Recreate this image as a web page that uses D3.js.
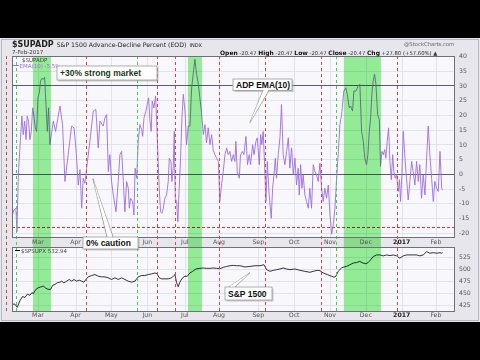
<!DOCTYPE html>
<html><head><meta charset="utf-8">
<script src="https://cdn.jsdelivr.net/npm/d3@7"></script>
<style>
html,body{margin:0;padding:0;background:#000;}
svg{display:block;font-family:"DejaVu Sans",Verdana,sans-serif;}
</style></head>
<body>
<svg id="c" width="480" height="360"></svg>
<script>
// ---- data ----
const monthLabels = ["Mar","Apr","May","Jun","Jul","Aug","Sep","Oct","Nov","Dec","2017","Feb"];
const monthDays   = [15,37,58,79,101,121,144,165,186,207,228,248]; // trading-day index (0 = 8-Feb-2016)
const adpTicks = [-20,-15,-10,-5,0,5,10,15,20,25,30,35,40];
const spxTicks = [425,450,475,500,525];
const adpLevels = [30,0];
const cautionLevel = -18;
const redEvents = [-3.9,43.1,84.7,95.2,121,147.9,180.7,225.2];
const greenEvents = [2.1,73,189.5];
const bandStart = [12.1,102.8,194.1];
const bandEnd   = [22.6,111,215.8];

const emaDay = [0,0.9,2.1,2.7,3.5,4.8,5.6,6.4,7.2,8.0,8.7,9.5,10.3,11.1,11.9,12.6,13.4,14.2,15.0,15.8,16.5,17.3,18.1,18.9,19.7,20.5,21.2,22.0,24.0,25.3,26.7,27.9,29.4,30.8,32.7,34.7,36.1,37.2,38.6,39.6,40.6,41.5,42.5,43.5,45.4,47.4,48.9,50.3,51.3,53.2,54.2,55.2,56.2,57.1,58.1,59.1,60.7,62.0,63.0,64.0,65.0,65.9,66.9,67.9,68.5,69.2,70.4,71.2,71.9,72.8,73.7,74.7,75.7,76.3,77.1,78.2,79.0,79.8,80.6,81.3,81.9,82.9,83.9,84.5,85.3,86.0,86.8,87.6,88.4,89.3,90.3,91.3,91.9,92.9,93.4,94.2,94.8,95.4,96.2,96.9,97.7,98.5,99.3,100.1,101.1,102.0,103.0,104.0,105.0,105.9,106.9,107.9,108.9,109.8,110.8,111.8,112.8,113.7,114.7,115.7,116.7,117.6,118.6,119.6,120.6,121.5,122.5,123.5,124.5,125.5,126.4,127.4,128.4,129.4,130.3,130.9,131.7,132.9,133.6,134.8,135.6,136.8,137.7,138.7,139.5,140.7,141.5,142.6,143.4,144.6,145.4,146.1,146.9,147.7,148.5,149.3,150.4,151.6,152.4,153.2,154.0,154.7,155.7,156.7,157.6,158.6,159.6,160.6,161.6,162.5,163.5,164.5,165.5,166.4,167.4,168.0,168.8,169.6,170.3,171.3,172.3,173.3,174.2,175.2,176.2,177.2,178.1,179.1,180.1,181.1,182.0,183.0,184.0,185.0,186.0,187.0,188.0,188.9,189.9,190.9,191.8,192.8,194.1,195.3,196.1,197.3,198.1,199.2,200.0,201.2,202.5,203.5,204.5,205.5,206.4,207.4,208.2,209.0,209.8,210.5,211.3,212.1,212.9,213.9,214.9,215.6,216.4,217.2,218.0,218.7,219.5,220.3,221.1,221.9,222.7,223.4,224.2,225.0,226.0,226.7,227.3,228.1,228.9,229.9,230.8,231.8,232.8,233.8,234.7,235.7,236.7,237.7,238.6,239.6,240.6,241.6,242.6,243.5,244.5,245.5,246.5,247.4,248.4,249.4,250.4,251.4,252];
const emaVal = [-14.0,-12.3,-11.7,-19.7,-0.3,12.2,19.6,13.3,17.9,11.6,19.6,17.9,11.6,14.4,22.4,19.6,15.6,14.4,25.8,27.5,31.5,32.4,32.1,32.7,23.5,14.4,22.4,9.9,17.9,14.4,19.0,23.0,16.7,-2.6,6.5,16.2,15.6,8.8,-3.8,1.4,-11.7,-1.5,-3.2,1.9,11.0,21.3,21.8,8.8,17.9,16.2,19.0,20.1,0.8,6.5,-2.6,-7.2,-12.9,-2.6,6.5,7.6,-2.6,-12.9,-2.6,-4.9,-11.7,-8.3,-9.4,-14.0,1.9,-1.5,11.0,16.7,15.0,12.7,19.0,21.3,23.5,25.8,17.9,14.4,24.7,22.4,26.4,17.9,5.3,-4.9,-12.9,-13.4,-11.7,-8.3,-7.2,-2.6,5.3,4.2,-2.6,1.9,14.4,-8.3,-9.4,-16.3,-4.9,5.3,19.0,27.0,21.3,9.9,16.2,16.2,29.2,33.8,38.9,33.8,30.4,25.8,20.7,13.3,16.7,10.5,15.6,9.9,13.3,8.2,6.5,5.3,4.2,-9.4,-3.8,0.8,6.5,8.8,6.5,7.6,4.2,6.5,4.2,11.0,0.8,-1.5,6.5,7.6,6.5,12.7,3.1,6.5,3.1,9.9,6.5,11.0,12.2,3.1,13.3,9.9,14.4,3.1,-9.4,4.2,-7.2,-15.1,-4.9,-0.3,5.3,-1.5,6.5,12.2,23.5,6.5,3.1,7.6,12.2,1.9,8.8,-0.3,5.3,-3.8,1.9,-7.2,3.1,-4.9,-0.3,-7.2,-9.4,-11.7,-4.9,-11.7,3.1,0.8,-0.3,-2.6,3.6,-4.9,-9.4,-4.9,-8.3,-3.8,-14.0,-20.5,-17.0,-11.7,-1.5,7.6,16.7,20.1,28.1,29.2,27.0,22.4,23.0,21.3,28.1,28.1,29.8,30.4,14.4,11.0,5.3,3.1,6.5,14.4,19.0,27.0,31.5,33.8,30.4,20.1,18.4,2.5,7.6,6.5,8.2,5.3,11.0,15.6,4.2,-2.0,6.5,0.8,-1.5,-0.3,-6.0,-2.0,-9.4,-0.3,14.4,5.3,-1.5,-8.9,-2.6,4.2,0.8,-3.8,4.2,-2.6,3.1,-8.3,-0.3,-7.2,5.3,16.2,6.5,-1.5,-9.4,-2.6,-4.9,-6.0,7.6,-4.9,-5.59];

const spxDay = [0,1.5,2.9,4.4,6.0,7.4,8.7,10.3,11.5,12.3,13.8,15.2,16.5,18.1,19.7,21.0,22.4,23.6,24.9,26.3,27.9,28.9,30.2,31.8,33.3,34.7,36.1,37.6,39.2,40.6,41.9,43.1,44.4,46.4,48.4,50.3,52.3,54.2,56.1,58.1,60.1,62.0,64.0,65.9,67.9,69.8,71.8,73.7,75.7,77.6,79.6,81.6,83.5,84.8,86.0,87.4,89.3,91.3,93.3,94.6,95.2,96.2,97.1,98.1,99.7,101.1,102.4,104.0,105.6,107.5,109.8,111.8,113.7,115.6,117.6,119.6,121.5,123.5,125.5,127.4,129.4,131.3,133.3,136.2,139.1,142.1,145.0,147.3,148.9,150.8,152.8,154.7,156.7,158.6,160.6,162.5,165.5,168.4,171.3,174.2,176.2,178.5,180.1,182.0,184.4,186.9,188.3,189.5,190.8,192.8,194.1,195.7,197.7,199.6,201.6,203.5,205.4,207.0,208.4,209.8,211.3,213.3,215.2,217.2,219.1,221.1,223.0,225.0,226.9,228.9,230.9,232.8,234.8,236.7,238.6,240.6,242.6,244.5,246.5,248.4,250.4,251.4,252];
const spxVal = [427,427,420.4,433.8,442.7,440.7,447.4,445.3,450.8,448.8,457.5,460.9,462.2,464.2,459.5,457.5,457.5,465.6,467.6,471,472.3,474.3,471,474.3,477.8,474.3,477.8,474.3,476.4,474.3,472.3,477.8,483.2,485.9,487.9,484.5,483.2,483.2,481.2,477.8,481.2,477.8,481.2,477.8,474.3,472.3,474.3,483.2,485.9,485.9,487.9,489.3,491.3,489.3,481.2,479.1,479.1,479.1,481.2,485.9,487.9,471,462.9,472.3,481.2,484.5,484.5,491.3,494.6,499.4,500.7,501.5,500.7,500.7,501.5,500.7,500,502.7,504.7,506.1,506.8,506.1,506.1,503.5,504.7,506.1,506.1,508.2,498,494.6,496.6,498,499.4,501.5,499.4,498,499.4,496.6,494.6,492.6,494.6,496.6,496,491.3,487.9,484.5,482.4,484.5,494.6,501.5,503.5,504.7,508.2,511.6,512.8,514.9,511.6,510.2,512.8,518.3,525,528.4,528.4,526.4,528.4,527,528.4,526.4,521.7,526.4,528.4,528.4,528.4,528.4,526.4,528.4,535.1,531.8,533.1,531.8,533.1,531.8,532.94];

// ---- drawing ----
const svg = d3.select("#c");
const L = 12, R = 455;
const mainTop = 56, mainBot = 238, lowTop = 247, lowBot = 312;
const x = d3.scaleLinear().domain([-0.2,259.2]).range([L,R]);
const y = d3.scaleLinear().domain([-21.8,40]).range([mainBot,mainTop]);
const y2 = d3.scaleLinear().domain([410.8,544.7]).range([lowBot,lowTop]);

// frame
svg.append("rect").attr("x",0).attr("y",38).attr("width",480).attr("height",284).attr("fill","#e6e6ec");
svg.append("rect").attr("x",1.5).attr("y",39.5).attr("width",477).attr("height",281).attr("fill","none").attr("stroke","#b8b8c0");

function panel(top,bot){
  svg.append("rect").attr("x",L).attr("y",top).attr("width",R-L).attr("height",bot-top).attr("fill","#f8f8fc");
}
panel(mainTop,mainBot); panel(lowTop,lowBot);

const gGrid = svg.append("g").attr("stroke","#e2e2ec").attr("stroke-width",1);
adpTicks.forEach(t=>gGrid.append("line").attr("x1",L).attr("x2",R).attr("y1",Math.round(y(t))+0.5).attr("y2",Math.round(y(t))+0.5));
spxTicks.forEach(t=>gGrid.append("line").attr("x1",L).attr("x2",R).attr("y1",Math.round(y2(t))+0.5).attr("y2",Math.round(y2(t))+0.5));
monthDays.forEach(d=>{
  const xx=Math.round(x(d))+0.5;
  gGrid.append("line").attr("x1",xx).attr("x2",xx).attr("y1",mainTop).attr("y2",mainBot);
  gGrid.append("line").attr("x1",xx).attr("x2",xx).attr("y1",lowTop).attr("y2",lowBot);
});

// level lines
adpLevels.forEach(v=>svg.append("line").attr("x1",L).attr("x2",R).attr("y1",Math.round(y(v))+0.5).attr("y2",Math.round(y(v))+0.5).attr("stroke","#5a5a80").attr("stroke-width",1));
svg.append("line").attr("x1",L).attr("x2",R).attr("y1",Math.round(y(cautionLevel))+0.5).attr("y2",Math.round(y(cautionLevel))+0.5)
  .attr("stroke","#e03030").attr("stroke-dasharray","3,2");

// lines
svg.append("clipPath").attr("id","cm").append("rect").attr("x",L).attr("y",mainTop).attr("width",R-L).attr("height",mainBot-mainTop);
const emaLine = d3.line().x((d,i)=>x(emaDay[i])).y(d=>y(d));
svg.append("path").datum(emaVal).attr("d",emaLine).attr("fill","none").attr("stroke","#9d6ce0").attr("stroke-width",0.9).attr("clip-path","url(#cm)");
const spxLine = d3.line().x((d,i)=>x(spxDay[i])).y(d=>y2(d));
svg.append("path").datum(spxVal).attr("d",spxLine).attr("fill","none").attr("stroke","#1a1a30").attr("stroke-width",0.9);

// green bands
bandStart.forEach((s,i)=>{
  svg.append("rect").attr("x",x(s)).attr("y",mainTop).attr("width",x(bandEnd[i])-x(s)).attr("height",lowBot-mainTop)
    .attr("fill","#98f298").style("mix-blend-mode","multiply");
});

// event lines
redEvents.forEach(d=>{const xx=Math.round(x(d))+0.5;
  svg.append("line").attr("x1",xx).attr("x2",xx).attr("y1",mainTop).attr("y2",lowBot).attr("stroke","#e04040").attr("stroke-dasharray","3,3");});
greenEvents.forEach(d=>{const xx=Math.round(x(d))+0.5;
  svg.append("line").attr("x1",xx).attr("x2",xx).attr("y1",mainTop).attr("y2",lowBot).attr("stroke","#40d040").attr("stroke-dasharray","3,3");});

// borders
[[mainTop,mainBot],[lowTop,lowBot]].forEach(([t,b])=>svg.append("rect").attr("x",L+0.5).attr("y",t+0.5).attr("width",R-L-1).attr("height",b-t-1).attr("fill","none").attr("stroke","#707078"));

// axes labels
const axTxt = svg.append("g").attr("font-size","6.2px").attr("fill","#555");
adpTicks.forEach(t=>axTxt.append("text").attr("x",459).attr("y",y(t)+2.2).text(t));
spxTicks.forEach(t=>axTxt.append("text").attr("x",459).attr("y",y2(t)+2.2).text(t));
monthLabels.forEach((m,i)=>{
  [244,317].forEach(yy=>{
    if(yy===244 && m==="May") return; // hidden under the "0% caution" callout in the original
    axTxt.append("text").attr("x",x(monthDays[i])).attr("y",yy).attr("text-anchor","middle")
     .attr("font-weight",m==="2017"?"bold":"normal").attr("fill",m==="2017"?"#222":"#555").text(m);
  });
});

// header
const h = svg.append("text").attr("x",12).attr("y",47).attr("fill","#222");
h.append("tspan").attr("font-weight","bold").attr("font-size","8px").text("$SUPADP");
h.append("tspan").attr("font-size","6.2px").attr("dx",3).text("S&P 1500 Advance-Decline Percent (EOD)");
h.append("tspan").attr("font-size","5px").attr("dx",3).text("INDX");
svg.append("text").attr("x",12).attr("y",54).attr("font-size","5.5px").attr("fill","#333").text("7-Feb-2017");
svg.append("text").attr("x",404).attr("y",45.5).attr("font-size","5.3px").attr("fill","#666").text("@StockCharts.com");
const o = svg.append("text").attr("x",220).attr("y",54.5).attr("font-size","5.3px").attr("fill","#333");
[["Open"," -20.47 "],["High"," -20.47 "],["Low"," -20.47 "],["Close"," -20.47 "],["Chg"," +27.80 (+57.60%) ▲"]].forEach(([a,b])=>{
  o.append("tspan").attr("font-weight","bold").attr("font-size","6px").attr("fill","#111").text(a);
  o.append("tspan").attr("xml:space","preserve").text(b);
});

// legends
svg.append("text").attr("x",22).attr("y",62).attr("font-size","5.5px").attr("fill","#444").text("$SUPADP");
svg.append("line").attr("x1",13).attr("x2",19).attr("y1",65.5).attr("y2",65.5).attr("stroke","#9d6ce0");
svg.append("text").attr("x",19.5).attr("y",67.5).attr("font-size","5.5px").attr("fill","#9d6ce0").text("EMA(10) -5.59");
svg.append("line").attr("x1",15).attr("x2",20).attr("y1",250.5).attr("y2",250.5).attr("stroke","#111");
svg.append("text").attr("x",21).attr("y",252.5).attr("font-size","5.5px").attr("fill","#444").text("$SPSUPX 532.94");

// callouts
function callout(bx,by,bw,bh,label,color,tip,base){
  const g=svg.append("g");
  if(tip){
    g.append("path").attr("d",`M${base[0]-3},${base[1]} L${tip[0]},${tip[1]} L${base[0]+3},${base[1]}`).attr("fill","#fff").attr("stroke","#888").attr("stroke-width",0.8);
  }
  g.append("rect").attr("x",bx+1.5).attr("y",by+1.5).attr("width",bw).attr("height",bh).attr("fill","#999").attr("opacity",0.5);
  g.append("rect").attr("x",bx).attr("y",by).attr("width",bw).attr("height",bh).attr("fill","#fff").attr("stroke","#999").attr("stroke-width",0.8);
  if(tip){ g.append("path").attr("d",`M${base[0]-2.3},${base[1]-0.5} L${tip[0]},${tip[1]} L${base[0]+2.3},${base[1]-0.5}`).attr("fill","#fff"); }
  g.append("text").attr("x",bx+3).attr("y",by+bh/2+3).attr("font-size","8.5px").attr("font-weight","bold").attr("fill",color)
    .attr("font-family","Liberation Sans, Arial, sans-serif").text(label);
}
callout(57,66,100,14,"+30% strong market","#1d3a1d",null,null);
callout(233,79,59,11.5,"ADP EMA(10)","#111",[x(139.1),y(17.4)],[266,90.5]);
callout(83,237,55,12,"0% caution","#111",[x(47.2),y(-1.7)],[110,237]);
callout(225,287,47,13,"S&P 1500","#111",[x(139.1),y2(491.6)],[232,287]);
</script>
</body></html>
